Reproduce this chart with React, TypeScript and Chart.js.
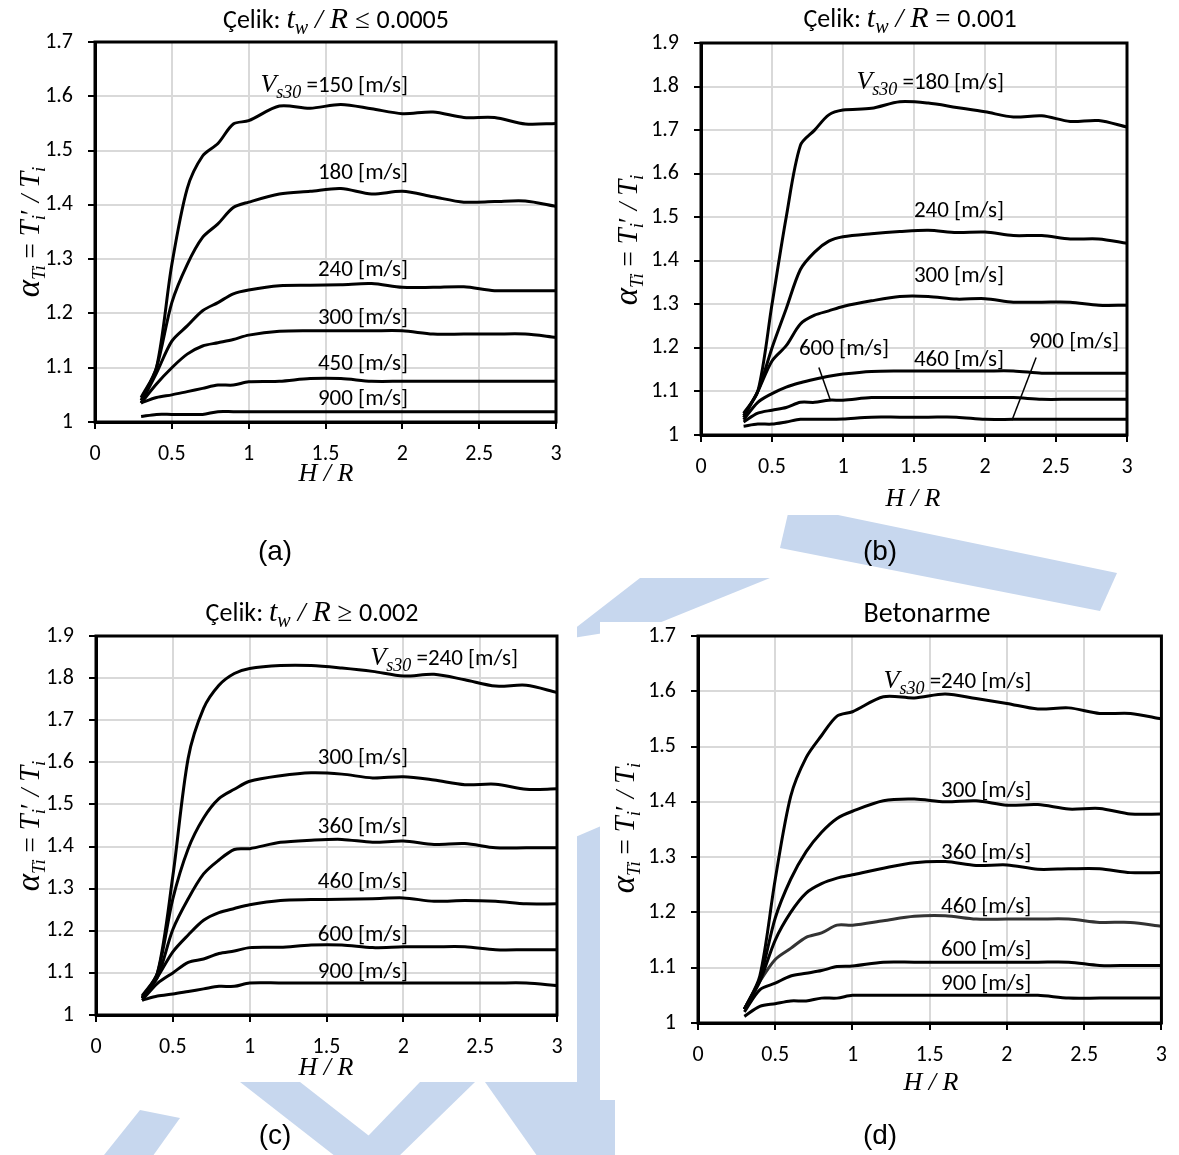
import React, { useEffect, useRef } from "react";
import { Chart, registerables } from "chart.js";
Chart.register(...registerables);

// ---------------- data ----------------
const HR = [0.3, 0.4, 0.5, 0.6, 0.7, 0.8, 0.9, 1.0, 1.2, 1.4, 1.6, 1.8, 2.0, 2.2, 2.4, 2.6, 2.8, 3.0];

const A_150 = [1.045, 1.10, 1.29, 1.43, 1.49, 1.513, 1.549, 1.555, 1.582, 1.578, 1.585, 1.577, 1.568, 1.571, 1.561, 1.561, 1.549, 1.55];
const A_180 = [1.04, 1.10, 1.22, 1.29, 1.34, 1.365, 1.395, 1.405, 1.42, 1.425, 1.43, 1.42, 1.425, 1.415, 1.405, 1.406, 1.407, 1.397];
const A_240 = [1.035, 1.09, 1.149, 1.177, 1.205, 1.22, 1.236, 1.243, 1.251, 1.252, 1.253, 1.255, 1.248, 1.248, 1.249, 1.242, 1.242, 1.242];
const A_300 = [1.035, 1.07, 1.10, 1.125, 1.14, 1.146, 1.152, 1.16, 1.167, 1.168, 1.168, 1.168, 1.168, 1.162, 1.162, 1.162, 1.162, 1.156];
const A_450 = [1.035, 1.045, 1.05, 1.056, 1.062, 1.068, 1.068, 1.074, 1.075, 1.08, 1.08, 1.075, 1.075, 1.075, 1.075, 1.075, 1.075, 1.075];
const A_900 = [1.01, 1.014, 1.014, 1.014, 1.014, 1.019, 1.019, 1.019, 1.019, 1.019, 1.019, 1.019, 1.019, 1.019, 1.019, 1.019, 1.019, 1.019];

const B_180 = [1.05, 1.10, 1.30, 1.50, 1.665, 1.70, 1.735, 1.746, 1.75, 1.765, 1.762, 1.752, 1.742, 1.73, 1.733, 1.72, 1.722, 1.707];
const B_240 = [1.045, 1.10, 1.20, 1.29, 1.38, 1.42, 1.445, 1.455, 1.462, 1.467, 1.47, 1.465, 1.466, 1.458, 1.458, 1.45, 1.45, 1.44];
const B_300 = [1.04, 1.10, 1.17, 1.205, 1.255, 1.275, 1.285, 1.295, 1.308, 1.318, 1.318, 1.312, 1.313, 1.305, 1.305, 1.305, 1.298, 1.298];
const B_460 = [1.035, 1.075, 1.095, 1.11, 1.12, 1.128, 1.135, 1.14, 1.146, 1.147, 1.147, 1.147, 1.147, 1.147, 1.142, 1.142, 1.142, 1.142];
const B_600 = [1.03, 1.05, 1.057, 1.063, 1.075, 1.075, 1.08, 1.08, 1.086, 1.086, 1.086, 1.086, 1.086, 1.086, 1.082, 1.082, 1.082, 1.082];
const B_900 = [1.02, 1.025, 1.025, 1.03, 1.036, 1.036, 1.036, 1.037, 1.041, 1.041, 1.041, 1.041, 1.036, 1.036, 1.036, 1.036, 1.036, 1.036];

const C_240 = [1.045, 1.10, 1.33, 1.61, 1.728, 1.783, 1.811, 1.823, 1.83, 1.83, 1.824, 1.816, 1.805, 1.809, 1.796, 1.781, 1.783, 1.766];
const C_300 = [1.04, 1.10, 1.276, 1.395, 1.468, 1.514, 1.536, 1.555, 1.568, 1.575, 1.572, 1.563, 1.566, 1.558, 1.547, 1.548, 1.536, 1.537];
const C_360 = [1.04, 1.09, 1.203, 1.276, 1.335, 1.368, 1.393, 1.395, 1.41, 1.415, 1.417, 1.41, 1.413, 1.405, 1.407, 1.397, 1.397, 1.397];
const C_460 = [1.04, 1.09, 1.15, 1.19, 1.225, 1.243, 1.253, 1.262, 1.272, 1.274, 1.275, 1.276, 1.278, 1.27, 1.272, 1.27, 1.264, 1.264];
const C_600 = [1.035, 1.075, 1.10, 1.125, 1.133, 1.146, 1.152, 1.16, 1.161, 1.166, 1.166, 1.16, 1.162, 1.162, 1.162, 1.155, 1.155, 1.155];
const C_900 = [1.035, 1.045, 1.05, 1.056, 1.062, 1.068, 1.068, 1.076, 1.076, 1.076, 1.076, 1.076, 1.076, 1.076, 1.076, 1.076, 1.076, 1.07];

const D_240 = [1.025, 1.085, 1.26, 1.41, 1.48, 1.52, 1.555, 1.563, 1.59, 1.588, 1.595, 1.587, 1.578, 1.568, 1.57, 1.56, 1.56, 1.55];
const D_300 = [1.025, 1.08, 1.19, 1.26, 1.31, 1.345, 1.37, 1.383, 1.402, 1.405, 1.40, 1.402, 1.394, 1.395, 1.387, 1.388, 1.378, 1.378];
const D_360 = [1.025, 1.075, 1.15, 1.20, 1.235, 1.252, 1.262, 1.268, 1.28, 1.29, 1.292, 1.285, 1.286, 1.278, 1.279, 1.279, 1.272, 1.272];
const D_460 = [1.025, 1.075, 1.115, 1.135, 1.155, 1.163, 1.177, 1.177, 1.185, 1.193, 1.194, 1.188, 1.188, 1.188, 1.188, 1.182, 1.182, 1.175];
const D_600 = [1.02, 1.06, 1.072, 1.085, 1.09, 1.095, 1.102, 1.103, 1.11, 1.11, 1.11, 1.11, 1.11, 1.11, 1.11, 1.104, 1.104, 1.104];
const D_900 = [1.012, 1.03, 1.035, 1.04, 1.04, 1.045, 1.045, 1.05, 1.05, 1.05, 1.05, 1.05, 1.05, 1.05, 1.045, 1.045, 1.045, 1.045];

const X_TICKS = [0, 0.5, 1, 1.5, 2, 2.5, 3];
const VS_A = ["150", "180", "240", "300", "450", "900"];
const VS_B = ["180", "240", "300", "460", "600", "900"];
const VS_CD = ["240", "300", "360", "460", "600", "900"];

// ---------------- styling ----------------
const SANS = '"Carlito", "Lato", sans-serif';
const SERIF = '"Liberation Serif", "DejaVu Serif", serif';
const fnt = (size: number, fam: string, style = "") => `${style} ${size}px ${fam}`.trim();
const LBL = fnt(23, SANS);
const WM_COLOR = "#c7d7ee";

const WATERMARK: number[][][] = [
  [[790, 505], [1117, 573], [1100, 611], [780, 548]],
  [[640, 578], [770, 578], [654, 625], [560, 640]],
  [[566, 841], [615, 820], [615, 1105], [566, 1118]],
  [[240, 1082], [300, 1082], [400, 1160], [340, 1160]],
  [[420, 1082], [475, 1082], [395, 1160], [345, 1160]],
  [[100, 1160], [150, 1160], [180, 1118], [140, 1110]],
  [[485, 1082], [615, 1082], [615, 1160], [540, 1160]],
];

type Seg = { t: string; f: string; dy?: number };

function drawRich(ctx: CanvasRenderingContext2D, segs: Seg[], x: number, y: number, align: string) {
  let w = 0;
  for (const s of segs) {
    ctx.font = s.f;
    w += ctx.measureText(s.t).width;
  }
  let cx = align === "left" ? x : align === "center" ? x - w / 2 : x - w;
  ctx.textAlign = "left";
  ctx.textBaseline = "alphabetic";
  for (const s of segs) {
    ctx.font = s.f;
    ctx.fillText(s.t, cx, y + (s.dy || 0));
    cx += ctx.measureText(s.t).width;
  }
}

const vsLabel = (v: string): Seg[] => [
  { t: "V", f: fnt(26, SERIF, "italic") },
  { t: "s30", f: fnt(18, SERIF, "italic"), dy: 6 },
  { t: " =" + v + " [m/s]", f: LBL },
];
const plainLabel = (v: string): Seg[] => [{ t: v + " [m/s]", f: LBL }];

const titleSegs = (rel: string, val: string): Seg[] => [
  { t: "Çelik: ", f: fnt(26, SANS) },
  { t: "t", f: fnt(30, SERIF, "italic") },
  { t: "w", f: fnt(20, SERIF, "italic"), dy: 6 },
  { t: " / ", f: fnt(28, SERIF, "italic") },
  { t: "R", f: fnt(30, SERIF, "italic") },
  { t: " " + rel + " ", f: fnt(27, SERIF) },
  { t: val, f: fnt(26, SANS) },
];

const YTITLE: Seg[] = [
  { t: "α", f: fnt(33, SERIF, "italic") },
  { t: "Ti", f: fnt(19, SERIF, "italic"), dy: 6 },
  { t: " = ", f: fnt(27, SERIF) },
  { t: "T", f: fnt(29, SERIF, "italic") },
  { t: "i", f: fnt(19, SERIF, "italic"), dy: 6 },
  { t: "′", f: fnt(27, SERIF) },
  { t: " / ", f: fnt(27, SERIF, "italic") },
  { t: "T", f: fnt(29, SERIF, "italic") },
  { t: "i", f: fnt(19, SERIF, "italic"), dy: 6 },
];
const XTITLE: Seg[] = [{ t: "H / R", f: fnt(26, SERIF, "italic") }];

type Label = { segs: Seg[]; x: number; y: number };
type Panel = {
  key: string;
  box: number[];
  mask: number[];
  area: number[];
  yMax: number;
  series: { values: number[]; color?: string }[];
  labels: Label[];
  leaders?: number[][];
  title: Seg[];
  titlePos: number[];
  xTitlePos: number[];
  yTitlePos: number[];
  caption: string;
  captionPos: number[];
};

const mkLabels = (vs: string[], xs: number[], ys: number[]): Label[] =>
  vs.map((v, i) => ({ segs: i === 0 ? vsLabel(v) : plainLabel(v), x: xs[i], y: ys[i] }));

const PANELS: Panel[] = [
  {
    key: "a",
    box: [0, 0, 590, 590],
    mask: [0, 0, 590, 515],
    area: [95, 42, 556, 422],
    yMax: 1.7,
    series: [A_150, A_180, A_240, A_300, A_450, A_900].map((v) => ({ values: v })),
    labels: mkLabels(VS_A, [2.037, 2.037, 2.037, 2.037, 2.037, 2.037], [1.623, 1.462, 1.284, 1.195, 1.111, 1.046]),
    title: titleSegs("≤", "0.0005"),
    titlePos: [336, 28],
    xTitlePos: [326, 481],
    yTitlePos: [30, 232],
    caption: "(a)",
    captionPos: [275, 552],
  },
  {
    key: "b",
    box: [590, 0, 589, 590],
    mask: [590, 0, 589, 515],
    area: [701, 43, 1127, 435],
    yMax: 1.9,
    series: [B_180, B_240, B_300, B_460, B_600, B_900].map((v) => ({ values: v })),
    labels: mkLabels(VS_B, [2.134, 2.134, 2.134, 2.134, 1.324, 2.944], [1.813, 1.519, 1.37, 1.177, 1.202, 1.218]),
    leaders: [
      [0.83, 1.155, 0.91, 1.081],
      [2.36, 1.178, 2.19, 1.034],
    ],
    title: titleSegs("=", "0.001"),
    titlePos: [910, 27],
    xTitlePos: [913, 506],
    yTitlePos: [628, 240],
    caption: "(b)",
    captionPos: [880, 552],
  },
  {
    key: "c",
    box: [0, 590, 590, 565],
    mask: [0, 590, 577, 492],
    area: [96, 636, 557, 1015],
    yMax: 1.9,
    series: [C_240, C_300, C_360, C_460, C_600, C_900].map((v) => ({ values: v })),
    labels: mkLabels(VS_CD, [2.746, 2.03, 2.03, 2.03, 2.03, 2.03], [1.85, 1.615, 1.451, 1.321, 1.195, 1.107]),
    title: titleSegs("≥", "0.002"),
    titlePos: [312, 621],
    xTitlePos: [326, 1075],
    yTitlePos: [30, 826],
    caption: "(c)",
    captionPos: [275, 1136],
  },
  {
    key: "d",
    box: [590, 590, 589, 565],
    mask: [600, 622, 579, 478],
    area: [698, 636, 1164, 1023],
    yMax: 1.7,
    series: [D_240, D_300, D_360, D_460, D_600, D_900].map((v, i) => ({ values: v, color: i === 3 ? "#333333" : "#000000" })),
    labels: mkLabels(VS_CD, [2.157, 2.157, 2.157, 2.157, 2.157, 2.157], [1.62, 1.423, 1.311, 1.213, 1.136, 1.074]),
    title: [{ t: "Betonarme", f: fnt(28, SANS) }],
    titlePos: [927, 622],
    xTitlePos: [931, 1090],
    yTitlePos: [625, 828],
    caption: "(d)",
    captionPos: [880, 1136],
  },
];

const numFmt = (v: any) => String(Math.round(Number(v) * 10) / 10);

function PanelChart({ p }: { p: Panel }) {
  const ref = useRef<HTMLCanvasElement>(null);
  const [bl, bt, bw, bh] = p.box;
  useEffect(() => {
    const [al, at, ar, ab] = p.area;
    const YW = 75;
    const XH = 45;
    const overlay = {
      id: "overlay_" + p.key,
      beforeDraw(chart: any) {
        const ctx = chart.ctx as CanvasRenderingContext2D;
        ctx.save();
        ctx.translate(-bl, -bt);
        ctx.fillStyle = WM_COLOR;
        for (const poly of WATERMARK) {
          ctx.beginPath();
          poly.forEach((pt, i) => (i === 0 ? ctx.moveTo(pt[0], pt[1]) : ctx.lineTo(pt[0], pt[1])));
          ctx.closePath();
          ctx.fill();
        }
        ctx.fillStyle = "#ffffff";
        ctx.fillRect(p.mask[0], p.mask[1], p.mask[2], p.mask[3]);
        ctx.restore();
      },
      afterDatasetsDraw(chart: any) {
        const ctx = chart.ctx as CanvasRenderingContext2D;
        const a = chart.chartArea;
        const xs = chart.scales.x;
        const ys = chart.scales.y;
        ctx.save();
        ctx.strokeStyle = "#000";
        ctx.lineWidth = 3;
        ctx.strokeRect(a.left, a.top, a.right - a.left, a.bottom - a.top);
        ctx.fillStyle = "#000";
        for (const l of p.labels) {
          drawRich(ctx, l.segs, xs.getPixelForValue(l.x), ys.getPixelForValue(l.y) + 8, "right");
        }
        if (p.leaders) {
          ctx.lineWidth = 1.5;
          for (const ld of p.leaders) {
            ctx.beginPath();
            ctx.moveTo(xs.getPixelForValue(ld[0]), ys.getPixelForValue(ld[1]));
            ctx.lineTo(xs.getPixelForValue(ld[2]), ys.getPixelForValue(ld[3]));
            ctx.stroke();
          }
        }
        ctx.restore();
      },
      afterDraw(chart: any) {
        const ctx = chart.ctx as CanvasRenderingContext2D;
        ctx.save();
        ctx.translate(-bl, -bt);
        ctx.fillStyle = "#000";
        drawRich(ctx, p.title, p.titlePos[0], p.titlePos[1], "center");
        drawRich(ctx, XTITLE, p.xTitlePos[0], p.xTitlePos[1], "center");
        ctx.save();
        ctx.translate(p.yTitlePos[0], p.yTitlePos[1]);
        ctx.rotate(-Math.PI / 2);
        drawRich(ctx, YTITLE, 0, 9, "center");
        ctx.restore();
        ctx.font = fnt(28, '"Liberation Sans", Arial, sans-serif');
        ctx.textAlign = "center";
        ctx.textBaseline = "middle";
        ctx.fillText(p.caption, p.captionPos[0], p.captionPos[1]);
        ctx.restore();
      },
    };

    const tickFont = { family: '"Carlito", "Lato", sans-serif', size: 22 };
    const chart = new Chart(ref.current as HTMLCanvasElement, {
      type: "line",
      data: {
        datasets: p.series.map((s) => ({
          data: HR.map((x, i) => ({ x, y: s.values[i] })),
          borderColor: s.color || "#000000",
          borderWidth: 3,
          pointRadius: 0,
          tension: 0.3,
          fill: false,
        })),
      },
      options: {
        animation: false,
        responsive: false,
        maintainAspectRatio: false,
        events: [],
        layout: {
          padding: { left: al - bl - YW, top: at - bt, right: bl + bw - ar, bottom: bt + bh - ab - XH },
        },
        plugins: { legend: { display: false }, title: { display: false }, tooltip: { enabled: false } },
        scales: {
          x: {
            type: "linear",
            min: 0,
            max: 3,
            afterBuildTicks: (s: any) => {
              s.ticks = X_TICKS.map((v) => ({ value: v }));
            },
            afterFit: (s: any) => {
              s.height = XH;
            },
            ticks: { color: "#000", font: tickFont, padding: 12, maxRotation: 0, callback: numFmt },
            grid: { color: "#d9d9d9", lineWidth: 2, tickColor: "#000", tickLength: 7, tickWidth: 2 },
            border: { display: true, color: "#000", width: 3 },
          },
          y: {
            type: "linear",
            min: 1,
            max: p.yMax,
            afterFit: (s: any) => {
              s.width = YW;
            },
            ticks: { color: "#000", font: tickFont, padding: 15, stepSize: 0.1, callback: numFmt },
            grid: { color: "#d9d9d9", lineWidth: 2, tickColor: "#000", tickLength: 7, tickWidth: 2 },
            border: { display: true, color: "#000", width: 3 },
          },
        },
      } as any,
      plugins: [overlay],
    });
    return () => chart.destroy();
  }, []);
  return (
    <canvas
      ref={ref}
      width={bw}
      height={bh}
      style={{ position: "absolute", left: bl, top: bt, width: bw, height: bh, display: "block" }}
    />
  );
}

export default function App() {
  return (
    <div style={{ position: "absolute", left: 0, top: 0, width: 1179, height: 1155, background: "#fff", overflow: "hidden" }}>
      {PANELS.map((p) => (
        <PanelChart key={p.key} p={p} />
      ))}
    </div>
  );
}
